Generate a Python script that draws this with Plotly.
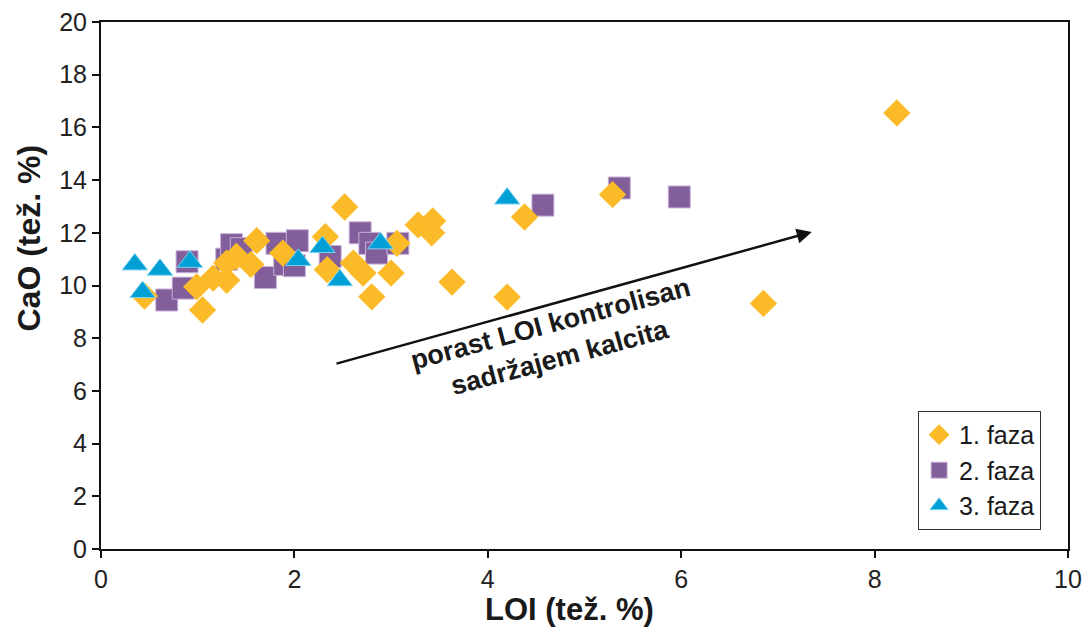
import plotly.graph_objects as go

# Faza 1 (diamonds)
loi_f1 = [0.45, 0.99, 1.05, 1.16, 1.30, 1.30, 1.40, 1.55, 1.61, 1.88, 2.32, 2.34, 2.52, 2.61, 2.71, 2.80,
          3.00, 3.06, 3.28, 3.43, 3.42, 3.63, 4.20, 4.38, 5.29, 6.85, 8.23]
cao_f1 = [9.60, 9.95, 9.07, 10.28, 10.20, 10.85, 11.10, 10.80, 11.70, 11.23, 11.85, 10.60, 12.98, 10.85, 10.47, 9.57,
          10.47, 11.60, 12.30, 12.45, 12.00, 10.13, 9.56, 12.60, 13.45, 9.32, 16.55]

# Faza 2 (squares)
loi_f2 = [0.68, 0.85, 0.89, 1.30, 1.35, 1.45, 1.70, 1.82, 1.90, 2.00, 2.03, 2.37, 2.68, 2.78, 2.85, 3.07,
          4.57, 5.36, 5.98]
cao_f2 = [9.45, 9.90, 10.90, 11.00, 11.55, 11.40, 10.30, 11.60, 10.80, 10.75, 11.70, 11.10, 12.00, 11.60, 11.23, 11.60,
          13.05, 13.70, 13.36]

# Faza 3 (triangles)
loi_f3 = [0.35, 0.43, 0.61, 0.92, 2.04, 2.29, 2.47, 2.89, 4.20]
cao_f3 = [10.80, 9.75, 10.60, 10.90, 10.97, 11.46, 10.20, 11.60, 13.30]

series_names = ["1. faza", "2. faza", "3. faza"]

x_ticks = [0, 2, 4, 6, 8, 10]
y_ticks = [0, 2, 4, 6, 8, 10, 12, 14, 16, 18, 20]

arrow_tail = (2.42, 7.02)
arrow_head = (7.35, 12.03)
arrow_text = "<b>porast LOI kontrolisan<br>sadržajem kalcita</b>"

FONT = "Liberation Sans, Arial, sans-serif"

fig = go.Figure()
fig.add_trace(go.Scatter(
    x=loi_f2, y=cao_f2, mode="markers", name=series_names[1],
    marker=dict(symbol="square", size=22, color="#825E9B", line=dict(color="#C9B3DA", width=1)),
    legendrank=2))
fig.add_trace(go.Scatter(
    x=loi_f1, y=cao_f1, mode="markers", name=series_names[0],
    marker=dict(symbol="diamond", size=21, color="#FBBA27", line=dict(width=0)),
    legendrank=1))
fig.add_trace(go.Scatter(
    x=loi_f3, y=cao_f3, mode="markers", name=series_names[2],
    marker=dict(symbol="triangle-up", size=22, color="#009FD6", line=dict(color="#7FD3F0", width=1)),
    legendrank=3))

fig.add_annotation(
    x=arrow_head[0], y=arrow_head[1], ax=arrow_tail[0], ay=arrow_tail[1],
    xref="x", yref="y", axref="x", ayref="y",
    showarrow=True, arrowhead=2, arrowsize=1.2, arrowwidth=2.5, arrowcolor="#111111", text="")

fig.add_annotation(
    x=4.7, y=7.9, xref="x", yref="y", text=arrow_text, showarrow=False,
    textangle=-15, font=dict(family=FONT, size=27, color="#1a1a1a"), align="center")

axis_common = dict(
    showline=True, linecolor="#111111", linewidth=2, mirror=True,
    showgrid=False, zeroline=False, ticks="outside", ticklen=7, tickwidth=2, tickcolor="#111111",
    tickfont=dict(family=FONT, size=25, color="#222222"), automargin=False,
)

fig.update_xaxes(range=[0, 10], tickvals=x_ticks, **axis_common)
fig.update_yaxes(range=[0, 20], tickvals=y_ticks, **axis_common)

# axis titles as annotations to match positions
fig.add_annotation(x=0.485, y=-0.115, xref="paper", yref="paper", yanchor="middle", xanchor="center",
                   text="<b>LOI (tež. %)</b>", showarrow=False,
                   font=dict(family=FONT, size=31, color="#1a1a1a"))
fig.add_annotation(x=-0.074, y=0.59, xref="paper", yref="paper", yanchor="middle", xanchor="center",
                   text="<b>CaO (tež. %)</b>", showarrow=False, textangle=-90,
                   font=dict(family=FONT, size=32, color="#1a1a1a"))

fig.update_layout(
    width=1083, height=628,
    margin=dict(l=101, r=15, t=22, b=79, autoexpand=False),
    plot_bgcolor="white", paper_bgcolor="white",
    font=dict(family=FONT),
    legend=dict(x=0.845, y=0.262, xanchor="left", yanchor="top",
                bordercolor="#333333", borderwidth=1, bgcolor="white",
                font=dict(family=FONT, size=25, color="#1a1a1a"),
                itemwidth=30, tracegroupgap=0),
    showlegend=True,
)

fig.write_html("out.html", config={"displayModeBar": False},
               post_script="document.body.style.margin='0px';document.body.style.overflow='hidden';")
